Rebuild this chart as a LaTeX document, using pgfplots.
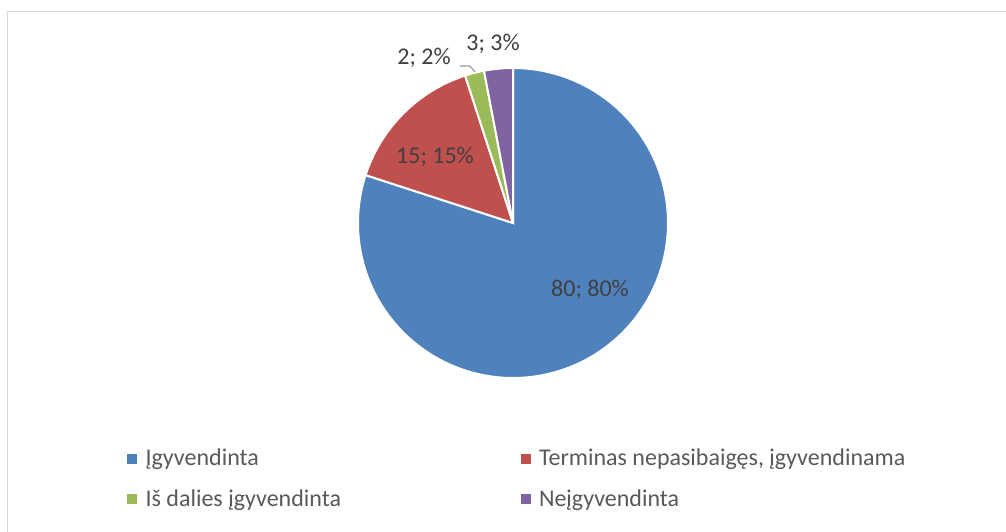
\documentclass[border=0pt]{standalone}
\usepackage{fontspec}
\setmainfont{Carlito}
\usepackage{pgfplots}
\pgfplotsset{compat=1.18}
\definecolor{cblue}{HTML}{4F81BD}
\definecolor{cred}{HTML}{C0504D}
\definecolor{cgreen}{HTML}{9BBB59}
\definecolor{cpurple}{HTML}{8064A2}
\definecolor{lbl}{HTML}{404040}
\definecolor{leg}{HTML}{595959}
\definecolor{frame}{HTML}{D9D9D9}
% values
\def\vA{80}\def\vB{15}\def\vC{2}\def\vD{3}
\pgfmathsetmacro\aA{90}
\pgfmathsetmacro\aB{\aA-3.6*\vA}
\pgfmathsetmacro\aC{\aB-3.6*\vB}
\pgfmathsetmacro\aD{\aC-3.6*\vC}
\pgfmathsetmacro\aE{\aD-3.6*\vD}
\begin{document}
\begin{tikzpicture}[x=1pt,y=1pt]
\useasboundingbox (0,0) rectangle (1006,531);
\begin{axis}[at={(0,0)},anchor=origin,scale only axis,width=1006pt,height=531pt,
  xmin=0,xmax=1006,ymin=0,ymax=531,axis lines=none,clip=false,
  legend columns=2,
  legend cell align=left,
  legend style={at={(axis cs:127,84)},anchor=north west,draw=none,fill=none,
    font=\fontsize{24}{28}\selectfont,text=leg,
    row sep=18pt,inner sep=0pt},
  ]
\draw[frame,line width=1.5pt] (axis cs:7.5,-5) -- (axis cs:7.5,519.5) -- (axis cs:1010,519.5);
\addplot[forget plot,fill=cblue,draw=white,line width=2pt,domain=\aA:\aB,samples=200,variable=\t]
  ({513+155*cos(t)},{308+155*sin(t)}) -- (axis cs:513,308) -- cycle;
\addplot[forget plot,fill=cred,draw=white,line width=2pt,domain=\aB:\aC,samples=60,variable=\t]
  ({513+155*cos(t)},{308+155*sin(t)}) -- (axis cs:513,308) -- cycle;
\addplot[forget plot,fill=cgreen,draw=white,line width=2pt,domain=\aC:\aD,samples=20,variable=\t]
  ({513+155*cos(t)},{308+155*sin(t)}) -- (axis cs:513,308) -- cycle;
\addplot[forget plot,fill=cpurple,draw=white,line width=2pt,domain=\aD:\aE,samples=20,variable=\t]
  ({513+155*cos(t)},{308+155*sin(t)}) -- (axis cs:513,308) -- cycle;
\draw[gray!80,line width=1.2pt] (axis cs:460,465) -- (axis cs:470,465) -- (axis cs:475,459);
\node[text=lbl,font=\fontsize{24}{28}\selectfont] at (axis cs:590,241) {80; 80\%};
\node[text=lbl,font=\fontsize{24}{28}\selectfont] at (axis cs:435,374) {15; 15\%};
\node[text=lbl,font=\fontsize{24}{28}\selectfont] at (axis cs:424,473) {2; 2\%};
\node[text=lbl,font=\fontsize{24}{28}\selectfont] at (axis cs:493,487) {3; 3\%};
\addlegendimage{legend image code/.code={\fill[cblue] (0pt,-4.5pt) rectangle (9pt,4.5pt);}}
\addlegendentry{\makebox[380pt][l]{\hspace{7pt}Įgyvendinta}}
\addlegendimage{legend image code/.code={\fill[cred] (0pt,-4.5pt) rectangle (9pt,4.5pt);}}
\addlegendentry{\hspace{7pt}Terminas nepasibaigęs, įgyvendinama}
\addlegendimage{legend image code/.code={\fill[cgreen] (0pt,-4.5pt) rectangle (9pt,4.5pt);}}
\addlegendentry{\makebox[380pt][l]{\hspace{7pt}Iš dalies įgyvendinta}}
\addlegendimage{legend image code/.code={\fill[cpurple] (0pt,-4.5pt) rectangle (9pt,4.5pt);}}
\addlegendentry{\hspace{7pt}Neįgyvendinta}
\end{axis}
\end{tikzpicture}
\end{document}
